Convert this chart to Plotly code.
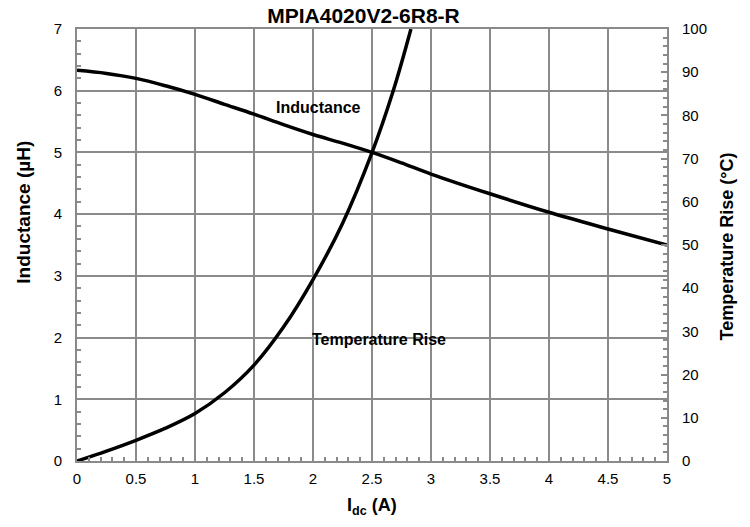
import plotly.graph_objects as go

# Data
idc_ind = [0, 0.25, 0.5, 0.75, 1.0, 1.25, 1.5, 1.75, 2.0, 2.25, 2.5, 2.75, 3.0, 3.5, 4.0, 4.5, 5.0]
inductance = [6.33, 6.28, 6.20, 6.08, 5.94, 5.78, 5.62, 5.45, 5.29, 5.15, 5.0, 4.83, 4.65, 4.33, 4.03, 3.76, 3.50]

idc_temp = [0, 0.25, 0.5, 0.75, 1.0, 1.25, 1.5, 1.75, 2.0, 2.25, 2.5, 2.68, 2.83]
temp_rise = [0, 2.3, 4.8, 7.6, 11.0, 15.8, 22.2, 31.0, 42.0, 55.0, 71.4, 85.7, 100]

x_ticks = [0, 0.5, 1, 1.5, 2, 2.5, 3, 3.5, 4, 4.5, 5]
x_tick_text = ["0", "0.5", "1", "1.5", "2", "2.5", "3", "3.5", "4", "4.5", "5"]

FONT = "Liberation Sans, Arial, Helvetica, sans-serif"
GRID = "#8a8a8a"

fig = go.Figure()
fig.add_trace(go.Scatter(x=idc_ind, y=inductance, mode="lines",
                         line=dict(color="black", width=3.5, shape="spline", smoothing=1.0),
                         showlegend=False, hoverinfo="skip"))
fig.add_trace(go.Scatter(x=idc_temp, y=temp_rise, mode="lines", yaxis="y2",
                         line=dict(color="black", width=3.5, shape="spline", smoothing=1.0),
                         showlegend=False, hoverinfo="skip"))

# The page body adds an 8px offset, so the figure is sized 742x519.
fig.update_layout(
    width=742, height=519,
    margin=dict(l=69.3, r=82.5, t=21.3, b=66.3, autoexpand=False),
    paper_bgcolor="white", plot_bgcolor="white",
    font=dict(family=FONT, size=15, color="black"),
    title=dict(text="<b>MPIA4020V2-6R8-R</b>", x=(363.5 - 8) / 742, y=0.9846,
               xref="container", yref="container", xanchor="center", yanchor="middle",
               font=dict(family=FONT, size=21, color="black")),
    xaxis=dict(range=[0, 5], tickvals=x_ticks, ticktext=x_tick_text,
               showgrid=True, gridcolor=GRID, gridwidth=2,
               showline=True, linecolor=GRID, linewidth=2, mirror=True,
               ticks="inside", ticklen=5, tickcolor=GRID, tickwidth=1.5,
               ticklabelstandoff=3, automargin=False,
               minor=dict(dtick=0.1, ticks="inside", ticklen=4, tickcolor=GRID, tickwidth=1.5, showgrid=False),
               zeroline=False, fixedrange=True),
    yaxis=dict(range=[0, 7], dtick=1,
               showgrid=True, gridcolor=GRID, gridwidth=2,
               showline=True, linecolor=GRID, linewidth=2, mirror=True,
               ticks="inside", ticklen=5, tickcolor=GRID, tickwidth=1.5,
               ticklabelstandoff=10, automargin=False,
               minor=dict(dtick=0.2, ticks="inside", ticklen=4, tickcolor=GRID, tickwidth=1.5, showgrid=False),
               zeroline=False, fixedrange=True),
    yaxis2=dict(range=[0, 100], dtick=10, overlaying="y", side="right",
                showgrid=False, showline=True, linecolor=GRID, linewidth=2,
                ticks="inside", ticklen=6, tickcolor=GRID, tickwidth=1.5,
                ticklabelstandoff=10, automargin=False,
                minor=dict(dtick=2, ticks="inside", ticklen=4, tickcolor=GRID, tickwidth=1.5, showgrid=False),
                zeroline=False, fixedrange=True),
)

annotations = [
    dict(text="<b>Inductance</b>", x=2.05, y=5.72, xref="x", yref="y", showarrow=False,
         xanchor="center", yanchor="middle", font=dict(family=FONT, size=16, color="black")),
    dict(text="<b>Temperature Rise</b>", x=2.56, y=1.975, xref="x", yref="y", showarrow=False,
         xanchor="center", yanchor="middle", font=dict(family=FONT, size=16, color="black")),
    dict(text="<b>Inductance (µH)</b>", x=-0.0903, y=0.5765, xref="paper", yref="paper", showarrow=False,
         xanchor="center", yanchor="middle", textangle=-90, font=dict(family=FONT, size=19, color="black")),
    dict(text="<b>Temperature Rise (°C)</b>", x=1.1025, y=0.4977, xref="paper", yref="paper", showarrow=False,
         xanchor="center", yanchor="middle", textangle=-90, font=dict(family=FONT, size=18, color="black")),
    dict(text="<b>I<sub>dc</sub> (A)</b>", x=0.4993, y=-0.105, xref="paper", yref="paper", showarrow=False,
         xanchor="center", yanchor="middle", font=dict(family=FONT, size=18, color="black")),
]
fig.update_layout(annotations=annotations)

fig.write_html("out.html")
